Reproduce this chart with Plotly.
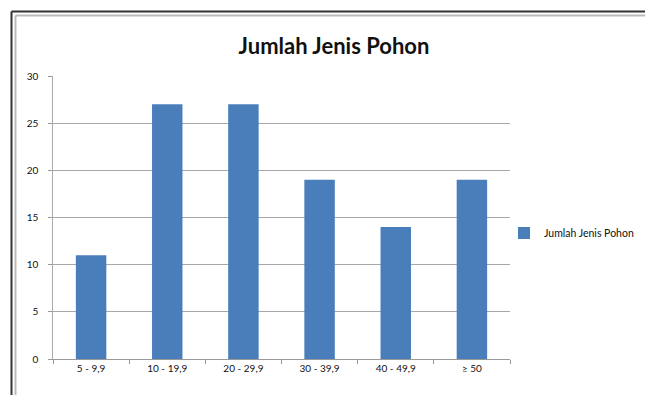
import plotly.graph_objects as go

categories = ["5 - 9,9", "10 - 19,9", "20 - 29,9", "30 - 39,9", "40 - 49,9", "≥ 50"]
values = [11, 27, 27, 19, 14, 19]
series_name = "Jumlah Jenis Pohon"
title_text = "Jumlah Jenis Pohon"

# page has an 8px body margin: work in page coordinates and shift
OFF = 8
W, H = 653 - 2 * OFF, 403 - 2 * OFF
L, T = 53 - OFF, 76 - OFF
R = W - (510 - OFF)
B = H - (359 - OFF)
pw, ph = W - L - R, H - T - B

def px(x):
    return (x - OFF - L) / pw

def py(y):
    return 1 - (y - OFF - T) / ph

fig = go.Figure()
fig.add_trace(go.Bar(
    x=categories, y=values, name=series_name,
    marker=dict(color="#4a7ebb", line=dict(width=0)),
    showlegend=True,
))

FONT = "Lato, Open Sans, sans-serif"

fig.update_layout(
    width=W, height=H,
    margin=dict(l=L, r=R, t=T, b=B, pad=0, autoexpand=False),
    paper_bgcolor="white", plot_bgcolor="white",
    font=dict(family=FONT, size=10, color="#111"),
    bargap=0.6,
    title=dict(text="<b>" + title_text + "</b>", x=(334 - OFF) / W, xanchor="center",
               y=1 - (46 - OFF) / H, yanchor="middle",
               font=dict(family=FONT, size=22, color="#111")),
    legend=dict(x=px(504), y=py(233), xanchor="left", yanchor="middle",
                font=dict(family=FONT, size=10.5, color="#111"), itemwidth=30,
                bgcolor="rgba(0,0,0,0)"),
    xaxis=dict(type="category", showline=True, linecolor="#999", linewidth=1,
               ticks="outside", tickson="boundaries", ticklen=4, tickcolor="#999",
               showgrid=False, tickfont=dict(family=FONT, size=10, color="#111"),
               fixedrange=True, automargin=False),
    yaxis=dict(range=[0, 30], dtick=5, showline=True, linecolor="#aaa", linewidth=1,
               ticks="outside", ticklen=4, tickcolor="#999",
               showgrid=True, gridcolor="#a8a8a8", gridwidth=1,
               zeroline=False, tickfont=dict(family=FONT, size=10, color="#111"),
               ticksuffix="   ", automargin=False),
    shapes=[
        dict(type="line", xref="paper", yref="paper",
             x0=px(11.5), y0=py(11.5), x1=px(660), y1=py(11.5),
             line=dict(color="#333", width=2), layer="above"),
        dict(type="line", xref="paper", yref="paper",
             x0=px(11.5), y0=py(11.5), x1=px(11.5), y1=py(420),
             line=dict(color="#333", width=2), layer="above"),
        dict(type="line", xref="paper", yref="paper",
             x0=px(15.5), y0=py(15.5), x1=px(660), y1=py(15.5),
             line=dict(color="#bbb", width=2), layer="above"),
        dict(type="line", xref="paper", yref="paper",
             x0=px(15.5), y0=py(15.5), x1=px(15.5), y1=py(420),
             line=dict(color="#bbb", width=2), layer="above"),
    ],
)

fig.write_html("out.html")
